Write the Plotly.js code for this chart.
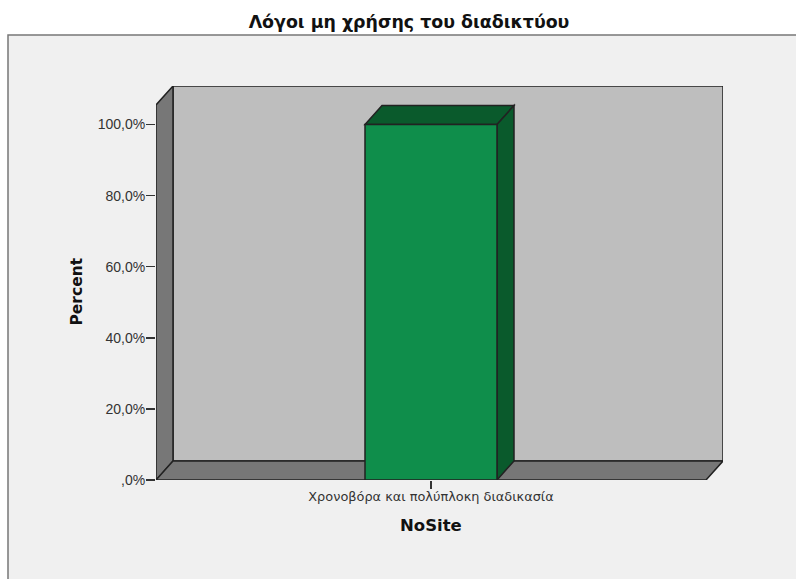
<!DOCTYPE html>
<html>
<head>
<meta charset="utf-8">
<script src="https://cdn.plot.ly/plotly-3.0.1.min.js"></script>
<style>html,body{margin:0;padding:0;background:#fff;overflow:hidden}</style>
</head>
<body>
<div id="chart" style="width:796px;height:579px"></div>
<script>
const categories = ['Χρονοβόρα και πολύπλοκη διαδικασία'];
const percentValues = [100];
const yTickValues = [0, 20, 40, 60, 80, 100];
const yTickLabels = [',0%', '20,0%', '40,0%', '60,0%', '80,0%', '100,0%'];

// Oblique depth of the pseudo-3D box, in axis units
const depthX = 0.0309, depthY = 5.34;
const xMin = -0.5, xMax = 0.5, wallTop = 105.5, barWidth = 0.24;

const EDGE = '#222222', WALL = '#bebebe', SIDE = '#777777';
const BAR = '#0f8e4b', BAR_DARK = '#0a5a2c';

function poly(points, fill, width) {
  const path = points.map((p, i) => (i ? 'L' : 'M') + p[0] + ',' + p[1]).join(' ') + ' Z';
  return {type: 'path', xref: 'x', yref: 'y', layer: 'below', path: path,
          fillcolor: fill, line: {color: EDGE, width: width || 1.5}};
}

const barValue = percentValues[0];
const bl = -barWidth / 2, br = barWidth / 2;

const shapes = [
  // Panel behind the chart; its right and bottom edges run off the page
  {type: 'rect', xref: 'paper', yref: 'paper', layer: 'below',
   x0: -148 / 567, x1: 1.2, y0: -0.4, y1: 1 + 51 / 394,
   fillcolor: '#f0f0f0', line: {color: '#777777', width: 1.5}},
  // Back wall, left wall, floor
  poly([[xMin + depthX, depthY], [xMax + depthX, depthY], [xMax + depthX, wallTop + depthY], [xMin + depthX, wallTop + depthY]], WALL),
  poly([[xMin, 0], [xMin + depthX, depthY], [xMin + depthX, wallTop + depthY], [xMin, wallTop]], SIDE),
  poly([[xMin, 0], [xMax, 0], [xMax + depthX, depthY], [xMin + depthX, depthY]], SIDE),
  // Top and right faces of the bar
  poly([[bl, barValue], [br, barValue], [br + depthX, barValue + depthY], [bl + depthX, barValue + depthY]], BAR_DARK),
  poly([[br, 0], [br + depthX, depthY], [br + depthX, barValue + depthY], [br, barValue]], BAR_DARK)
];

const trace = {
  type: 'bar',
  x: categories.map((_, i) => i),
  y: percentValues,
  width: barWidth,
  marker: {color: BAR, line: {color: EDGE, width: 1.5}},
  hoverinfo: 'skip'
};

// Axis titles sit off the plot centre, so they are placed as annotations
const titleFont = {family: 'DejaVu Sans', size: 15.5, color: '#111111', weight: 'bold'};

const layout = {
  width: 796, height: 579,
  margin: {l: 156, r: 73, t: 86, b: 99},
  paper_bgcolor: '#ffffff',
  plot_bgcolor: 'rgba(0,0,0,0)',
  showlegend: false,
  title: {
    text: 'Λόγοι μη χρήσης του διαδικτύου',
    font: {family: 'DejaVu Sans', size: 17.4, color: '#111111', weight: 'bold'},
    x: 409 / 796, xanchor: 'center', y: 1 - 22 / 579, yanchor: 'middle'
  },
  xaxis: {
    range: [xMin, xMax + depthX],
    tickmode: 'array', tickvals: categories.map((_, i) => i), ticktext: categories,
    ticks: 'outside', ticklen: 8, tickwidth: 1.5, tickcolor: '#333333',
    tickfont: {family: 'DejaVu Sans', size: 12.9, color: '#333333'},
    ticklabelstandoff: -3,
    showgrid: false, zeroline: false, showline: false
  },
  yaxis: {
    range: [0, wallTop + depthY],
    tickmode: 'array', tickvals: yTickValues, ticktext: yTickLabels,
    ticks: 'outside', ticklen: 9, tickwidth: 1.5, tickcolor: '#333333',
    tickfont: {family: 'Liberation Sans', size: 14, color: '#333333'},
    ticklabelstandoff: -2,
    showgrid: false, zeroline: false, showline: false
  },
  annotations: [
    {text: 'NoSite', xref: 'x', yref: 'paper', x: 0, y: -45 / 394,
     xanchor: 'center', yanchor: 'middle', showarrow: false,
     font: Object.assign({}, titleFont, {size: 16.5})},
    {text: 'Percent', xref: 'paper', yref: 'paper', x: -80 / 567, y: 188.5 / 394,
     xanchor: 'center', yanchor: 'middle', textangle: -90, showarrow: false, font: titleFont}
  ],
  shapes: shapes
};

Plotly.newPlot('chart', [trace], layout, {displayModeBar: false, staticPlot: true});
</script>
</body>
</html>
